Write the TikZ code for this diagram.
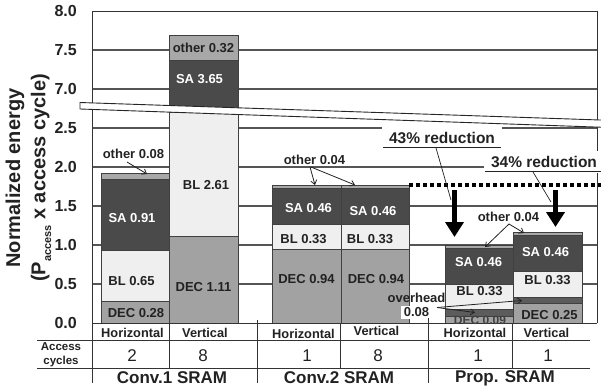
\documentclass[tikz,border=0pt]{standalone}
\usepackage{fontspec}
\setmainfont{Liberation Sans}
\usetikzlibrary{arrows.meta}
\definecolor{saC}{HTML}{4A4A4A}
\definecolor{blC}{HTML}{EFEFEF}
\definecolor{decC}{HTML}{A2A2A2}
\definecolor{othC}{HTML}{A8A8A8}
\definecolor{ovhC}{HTML}{5C5C5C}
\definecolor{gridC}{HTML}{555555}
\definecolor{txtC}{HTML}{222222}
\newcommand{\segbox}[5]{\path[seg, fill=#1] (#2,#3) rectangle (#4,#5);}
\begin{document}
\begin{tikzpicture}[x=1pt,y=-1pt,
  seg/.style={draw=black!75, line width=0.6pt},
  gridln/.style={draw=gridC, line width=1.1pt},
  frameln/.style={draw=black!80, line width=1pt},
  lab/.style={font=\fontsize{13}{14}\selectfont\bfseries, inner sep=0pt, text=txtC},
  wlab/.style={lab, text=white},
  ticklab/.style={font=\fontsize{16}{17}\selectfont\bfseries, anchor=east, inner sep=0pt, text=txtC},
  ytitle/.style={rotate=90, font=\fontsize{20}{22}\selectfont\bfseries, inner sep=0pt, text=txtC},
  rowlab/.style={font=\fontsize{12.8}{14}\selectfont\bfseries, inner sep=0pt, text=txtC},
  numlab/.style={font=\fontsize{17}{18}\selectfont, inner sep=0pt, text=txtC},
  grouplab/.style={font=\fontsize{17}{18}\selectfont\bfseries, inner sep=0pt, text=txtC},
  redlab/.style={font=\fontsize{15.5}{17}\selectfont\bfseries, text=txtC, fill=white, inner xsep=7pt, inner ysep=5pt},
  callout/.style={draw=txtC, line width=0.8pt, -{Straight Barb[length=4pt,width=6pt]}},
  bigarrow/.style={draw=black, line width=5pt, -{Triangle[length=15pt,width=18pt]}},
  thinln/.style={draw=txtC, line width=0.7pt},
  tblln/.style={draw=black!80, line width=0.9pt}
]
\useasboundingbox (0,0) rectangle (601,388);
% grid lines
\foreach \yy in {50,89,128,167,206,245,284}{\draw[gridln] (92,\yy) -- (597,\yy);}
% Conv.1 Horizontal
\segbox{decC}{101}{323}{169}{301.2}
\segbox{blC}{101}{301.2}{169}{250.5}
\segbox{saC}{101}{250.5}{169}{179.5}
\segbox{othC}{101}{179.5}{169}{173.2}
% Conv.1 Vertical
\segbox{decC}{169}{323}{238}{236.4}
\segbox{blC}{169}{236.4}{238}{110}
\segbox{saC}{169}{112}{238}{60.1}
\segbox{othC}{169}{60.1}{238}{35.2}
% Conv.2 Horizontal / Vertical
\segbox{decC}{272}{323}{341}{249.7}
\segbox{blC}{272}{249.7}{341}{223.9}
\segbox{saC}{272}{223.9}{341}{188.1}
\segbox{othC}{272}{188.1}{341}{185}
\segbox{decC}{341}{323}{409}{249.7}
\segbox{blC}{341}{249.7}{409}{223.9}
\segbox{saC}{341}{223.9}{409}{188.1}
\segbox{othC}{341}{188.1}{409}{185}
% Prop Horizontal
\segbox{decC}{445}{323}{513}{316}
\segbox{ovhC}{445}{316}{513}{309.7}
\segbox{blC}{445}{309.7}{513}{284}
\segbox{saC}{445}{284}{513}{248.1}
\segbox{othC}{445}{248.1}{513}{245}
% Prop Vertical
\segbox{decC}{513}{323}{582}{303.5}
\segbox{ovhC}{513}{303.5}{582}{297.3}
\segbox{blC}{513}{297.3}{582}{271.5}
\segbox{saC}{513}{271.5}{582}{235.6}
\segbox{othC}{513}{235.6}{582}{232.5}
% frame
\draw[frameln] (92,383) -- (92,11) -- (597,11) -- (597,120);
\draw[frameln] (597,127) -- (597,323);
\draw[frameln] (92,323) -- (597,323);
% axis break band
\fill[white] (80,102.5) -- (606,120.2) -- (606,127.4) -- (80,109) -- cycle;
\draw[line width=0.9pt, black!85] (606,120.2) -- (80,102.5) -- (80,109) -- (606,127.4);
% y tick labels
\node[ticklab] (t80) at (77,11) {8.0};
\node[ticklab] (t75) at (77,50) {7.5};
\node[ticklab] (t70) at (77,89) {7.0};
\node[ticklab] (t25) at (77,128) {2.5};
\node[ticklab] (t20) at (77,167) {2.0};
\node[ticklab] (t15) at (77,206) {1.5};
\node[ticklab] (t10) at (77,245) {1.0};
\node[ticklab] (t05) at (77,284) {0.5};
\node[ticklab] (t00) at (77,323) {0.0};
% y title
\node[ytitle] (yt1) at (15,178) {Normalized energy};
\node[ytitle] (yt2) at (41,178) {(P\raisebox{-0.55ex}{\fontsize{11}{11}\selectfont access} x access cycle)};
% bar labels Conv.1
\node[lab] (c1ho) at (133.5,154) {other 0.08};
\node[wlab] (c1hsa) at (132,218) {SA 0.91};
\node[lab] (c1hbl) at (131.5,281) {BL 0.65};
\node[lab] (c1hdec) at (136,313) {DEC 0.28};
\node[lab] (c1vo) at (203.5,48) {other 0.32};
\node[wlab] (c1vsa) at (199.5,79) {SA 3.65};
\node[lab] (c1vbl) at (206,185) {BL 2.61};
\node[lab] (c1vdec) at (203.5,287) {DEC 1.11};
% Conv.2
\node[lab] (c2o) at (314.5,160) {other 0.04};
\node[wlab] (c2hsa) at (308.5,208) {SA 0.46};
\node[lab] (c2hbl) at (303.5,239) {BL 0.33};
\node[lab] (c2hdec) at (306.5,279) {DEC 0.94};
\node[wlab] (c2vsa) at (373,211) {SA 0.46};
\node[lab] (c2vbl) at (370,239) {BL 0.33};
\node[lab] (c2vdec) at (376,279) {DEC 0.94};
% Prop
\node[lab] (po) at (508.5,217) {other 0.04};
\node[wlab] (phsa) at (478.5,262) {SA 0.46};
\node[lab] (phbl) at (479.5,291) {BL 0.33};
\node[lab, font=\fontsize{12}{13}\selectfont\bfseries, text=black!75] (phdec) at (480,320.5) {DEC 0.09};
\node[wlab] (pvsa) at (545.5,252) {SA 0.46};
\node[lab] (pvbl) at (547.5,280) {BL 0.33};
\node[lab] (pvdec) at (549.5,315) {DEC 0.25};
\node[lab] (ovh) at (416.5,298) {overhead};
\node[lab, fill=white, inner xsep=3pt, inner ysep=2pt] (ovhv) at (416.5,312.5) {0.08};
% callout coordinates
\coordinate (c1hTop) at (147,174);
\coordinate (c2hTop) at (315,185);
\coordinate (c2vTop) at (355,185);
\coordinate (phTop) at (485,247);
\coordinate (pvTop) at (524,233);
\coordinate (phOv) at (475,312.5);
\coordinate (pvOv) at (522,300.5);
\coordinate (ovhS) at (437,307.5);
\draw[callout] (127,162) -- (c1hTop);
\draw[callout] (310,167) -- (c2hTop);
\draw[callout] (311,167) -- (c2vTop);
\draw[callout] (509,224) -- (phTop);
\draw[callout] (509,224) -- (pvTop);
\draw[callout] (ovhS) -- (phOv);
\draw[callout] (ovhS) -- (pvOv);
% reduction labels
\node[redlab] (r43) at (442,138) {43\% reduction};
\node[redlab] (r34) at (544,162) {34\% reduction};
\draw[thinln, line width=1pt] (383,147.5) -- (501,147.5);
\draw[thinln, line width=1pt] (485,171) -- (603,171);
% dotted reference line
\coordinate (dotL) at (409,185);
\coordinate (dotR) at (603,185);
\draw[line width=3.5pt, dash pattern=on 4pt off 3pt] (dotL) -- (dotR);
% big arrows
\coordinate (a1s) at (454.5,190);
\coordinate (a1e) at (454.5,237);
\coordinate (a2s) at (555.5,190);
\coordinate (a2e) at (555.5,227);
\draw[bigarrow] (a1s) -- (a1e);
\draw[bigarrow] (a2s) -- (a2e);
\draw[thinln] (436,148) -- (451,200);
\draw[thinln] (533,172) -- (551,202);
% table
\draw[tblln] (37,340) -- (590,340);
\draw[tblln] (37,368) -- (590,368);
\draw[tblln] (169,323) -- (169,368);
\draw[tblln] (340,323) -- (340,368);
\draw[tblln] (512,323) -- (512,368);
\draw[tblln] (257,320) -- (257,383);
\draw[tblln] (428.5,318) -- (428.5,383);
\node[rowlab] (h1) at (132.5,333) {Horizontal};
\node[rowlab] (v1) at (205,333) {Vertical};
\node[rowlab] (h2) at (303.5,334) {Horizontal};
\node[rowlab] (v2) at (376.5,331) {Vertical};
\node[rowlab] (h3) at (475,333) {Horizontal};
\node[rowlab] (v3) at (546.5,333) {Vertical};
\node[font=\fontsize{11.5}{14}\selectfont\bfseries, align=center, inner sep=0pt, text=txtC] (acc) at (61,354.5) {Access\\cycles};
\node[numlab] (n1) at (132,356) {2};
\node[numlab] (n2) at (203,356) {8};
\node[numlab] (n3) at (307,356) {1};
\node[numlab] (n4) at (378,356) {8};
\node[numlab] (n5) at (478,356) {1};
\node[numlab] (n6) at (548,356) {1};
\node[grouplab] (g1) at (172,378) {Conv.1 SRAM};
\node[grouplab] (g2) at (339,378) {Conv.2 SRAM};
\node[grouplab] (g3) at (505,378) {Prop. SRAM};
\end{tikzpicture}
\end{document}
